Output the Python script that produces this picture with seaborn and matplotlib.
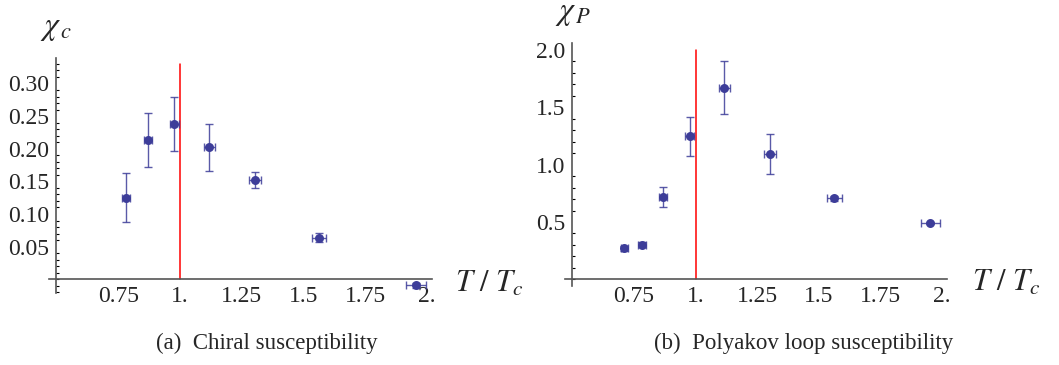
#!/usr/bin/env python3
# -*- coding: utf-8 -*-

"""
Chiral and Polyakov loop susceptibility vs T/Tc
two panels, Mathematica-like axes crossing at (0.5, 0)
"""

import numpy as np
import pandas as pd
import matplotlib
matplotlib.use('Agg')
import matplotlib.pyplot as plt
from matplotlib.ticker import FixedLocator, MultipleLocator
import seaborn as sns


# panel (a): chiral susceptibility
T_a = [0.781, 0.869, 0.976, 1.118, 1.304, 1.563, 1.955]
T_a_err = [0.015, 0.016, 0.018, 0.022, 0.024, 0.029, 0.039]
chi_c = [0.125, 0.213, 0.238, 0.202, 0.152, 0.064, -0.009]
chi_c_err = [0.038, 0.041, 0.041, 0.036, 0.0125, 0.007, 0.004]

# panel (b): Polyakov loop susceptibility
T_b = [0.711, 0.783, 0.868, 0.977, 1.117, 1.302, 1.563, 1.953]
T_b_err = [0.014, 0.015, 0.016, 0.018, 0.022, 0.025, 0.030, 0.038]
chi_P = [0.271, 0.303, 0.719, 1.246, 1.671, 1.092, 0.707, 0.492]
chi_P_err = [0.02, 0.025, 0.088, 0.172, 0.233, 0.178, 0.02, 0.012]

x_ticks = [0.75, 1.0, 1.25, 1.5, 1.75, 2.0]
x_ticklabels = ['0.75', '1.', '1.25', '1.5', '1.75', '2.']
ya_ticks = [0.05, 0.10, 0.15, 0.20, 0.25, 0.30]
ya_ticklabels = ['0.05', '0.10', '0.15', '0.20', '0.25', '0.30']
yb_ticks = [0.5, 1.0, 1.5, 2.0]
yb_ticklabels = ['0.5', '1.0', '1.5', '2.0']

POINT = '#3d3d99'
AXIS = '#555555'

sns.set_theme(style='white')
plt.rcParams['font.family'] = ['Liberation Serif', 'DejaVu Serif']
plt.rcParams['mathtext.fontset'] = 'stix'


def draw_panel(ax, T, Terr, chi, chierr, yticks, yticklabels, ylim, minor_step, redtop):
    df = pd.DataFrame({'T': T, 'chi': chi})
    ax.errorbar(T, chi, xerr=Terr, yerr=chierr, fmt='none', ecolor=POINT,
                elinewidth=1.0, capsize=3, capthick=1.0, alpha=0.85, zorder=2)
    sns.scatterplot(data=df, x='T', y='chi', ax=ax, color=POINT, s=42,
                    edgecolor=POINT, linewidth=0, zorder=3, legend=False)
    ax.plot([1.0, 1.0], [0, redtop], color='red', lw=1.1, zorder=1)

    ax.set_xlim(0.47, 2.02)
    ax.set_ylim(*ylim)
    ax.spines['left'].set_position(('data', 0.5))
    ax.spines['bottom'].set_position(('data', 0.0))
    ax.spines['top'].set_visible(False)
    ax.spines['right'].set_visible(False)
    for s in ('left', 'bottom'):
        ax.spines[s].set_color(AXIS)
        ax.spines[s].set_linewidth(1.2)

    ax.xaxis.set_major_locator(FixedLocator(x_ticks))
    ax.set_xticklabels(x_ticklabels)
    ax.yaxis.set_major_locator(FixedLocator(yticks))
    ax.set_yticklabels(yticklabels)
    ax.yaxis.set_minor_locator(MultipleLocator(minor_step))
    ax.tick_params(axis='both', which='major', direction='in', length=4.5, width=1.0,
                   color='black', labelsize=17, pad=5)
    ax.tick_params(axis='y', which='minor', direction='in', length=2.5, width=0.8,
                   color='black', left=True)
    ax.tick_params(axis='x', which='minor', bottom=False)
    ax.set_xlabel('')
    ax.set_ylabel('')
    ax.grid(False)


fig = plt.figure(figsize=(10.59, 3.65), dpi=100)
ax1 = fig.add_axes([0.0463, 0.1973, 0.3617, 0.6438])
ax2 = fig.add_axes([0.5335, 0.2164, 0.3607, 0.6658])

draw_panel(ax1, T_a, T_a_err, chi_c, chi_c_err, ya_ticks, ya_ticklabels,
           (-0.021, 0.339), 0.01, 0.33)
draw_panel(ax2, T_b, T_b_err, chi_P, chi_P_err, yb_ticks, yb_ticklabels,
           (-0.058, 2.06), 0.1, 2.0)

# axis labels placed like Mathematica AxesLabel
fig.text(0.038, 0.923, r'$\chi_{\,c}$', fontsize=23, va='center', ha='left')
fig.text(0.524, 0.964, r'$\chi_{\,P}$', fontsize=23, va='center', ha='left')
fig.text(0.430, 0.222, r'$T\ /\ T_c$', fontsize=22, va='center', ha='left')
fig.text(0.918, 0.224, r'$T\ /\ T_c$', fontsize=22, va='center', ha='left')

# sub captions
fig.text(0.252, 0.06, '(a)  Chiral susceptibility', fontsize=16.5, ha='center', va='center')
fig.text(0.759, 0.06, '(b)  Polyakov loop susceptibility', fontsize=16.5, ha='center', va='center')

fig.savefig('out.png', dpi=100)
